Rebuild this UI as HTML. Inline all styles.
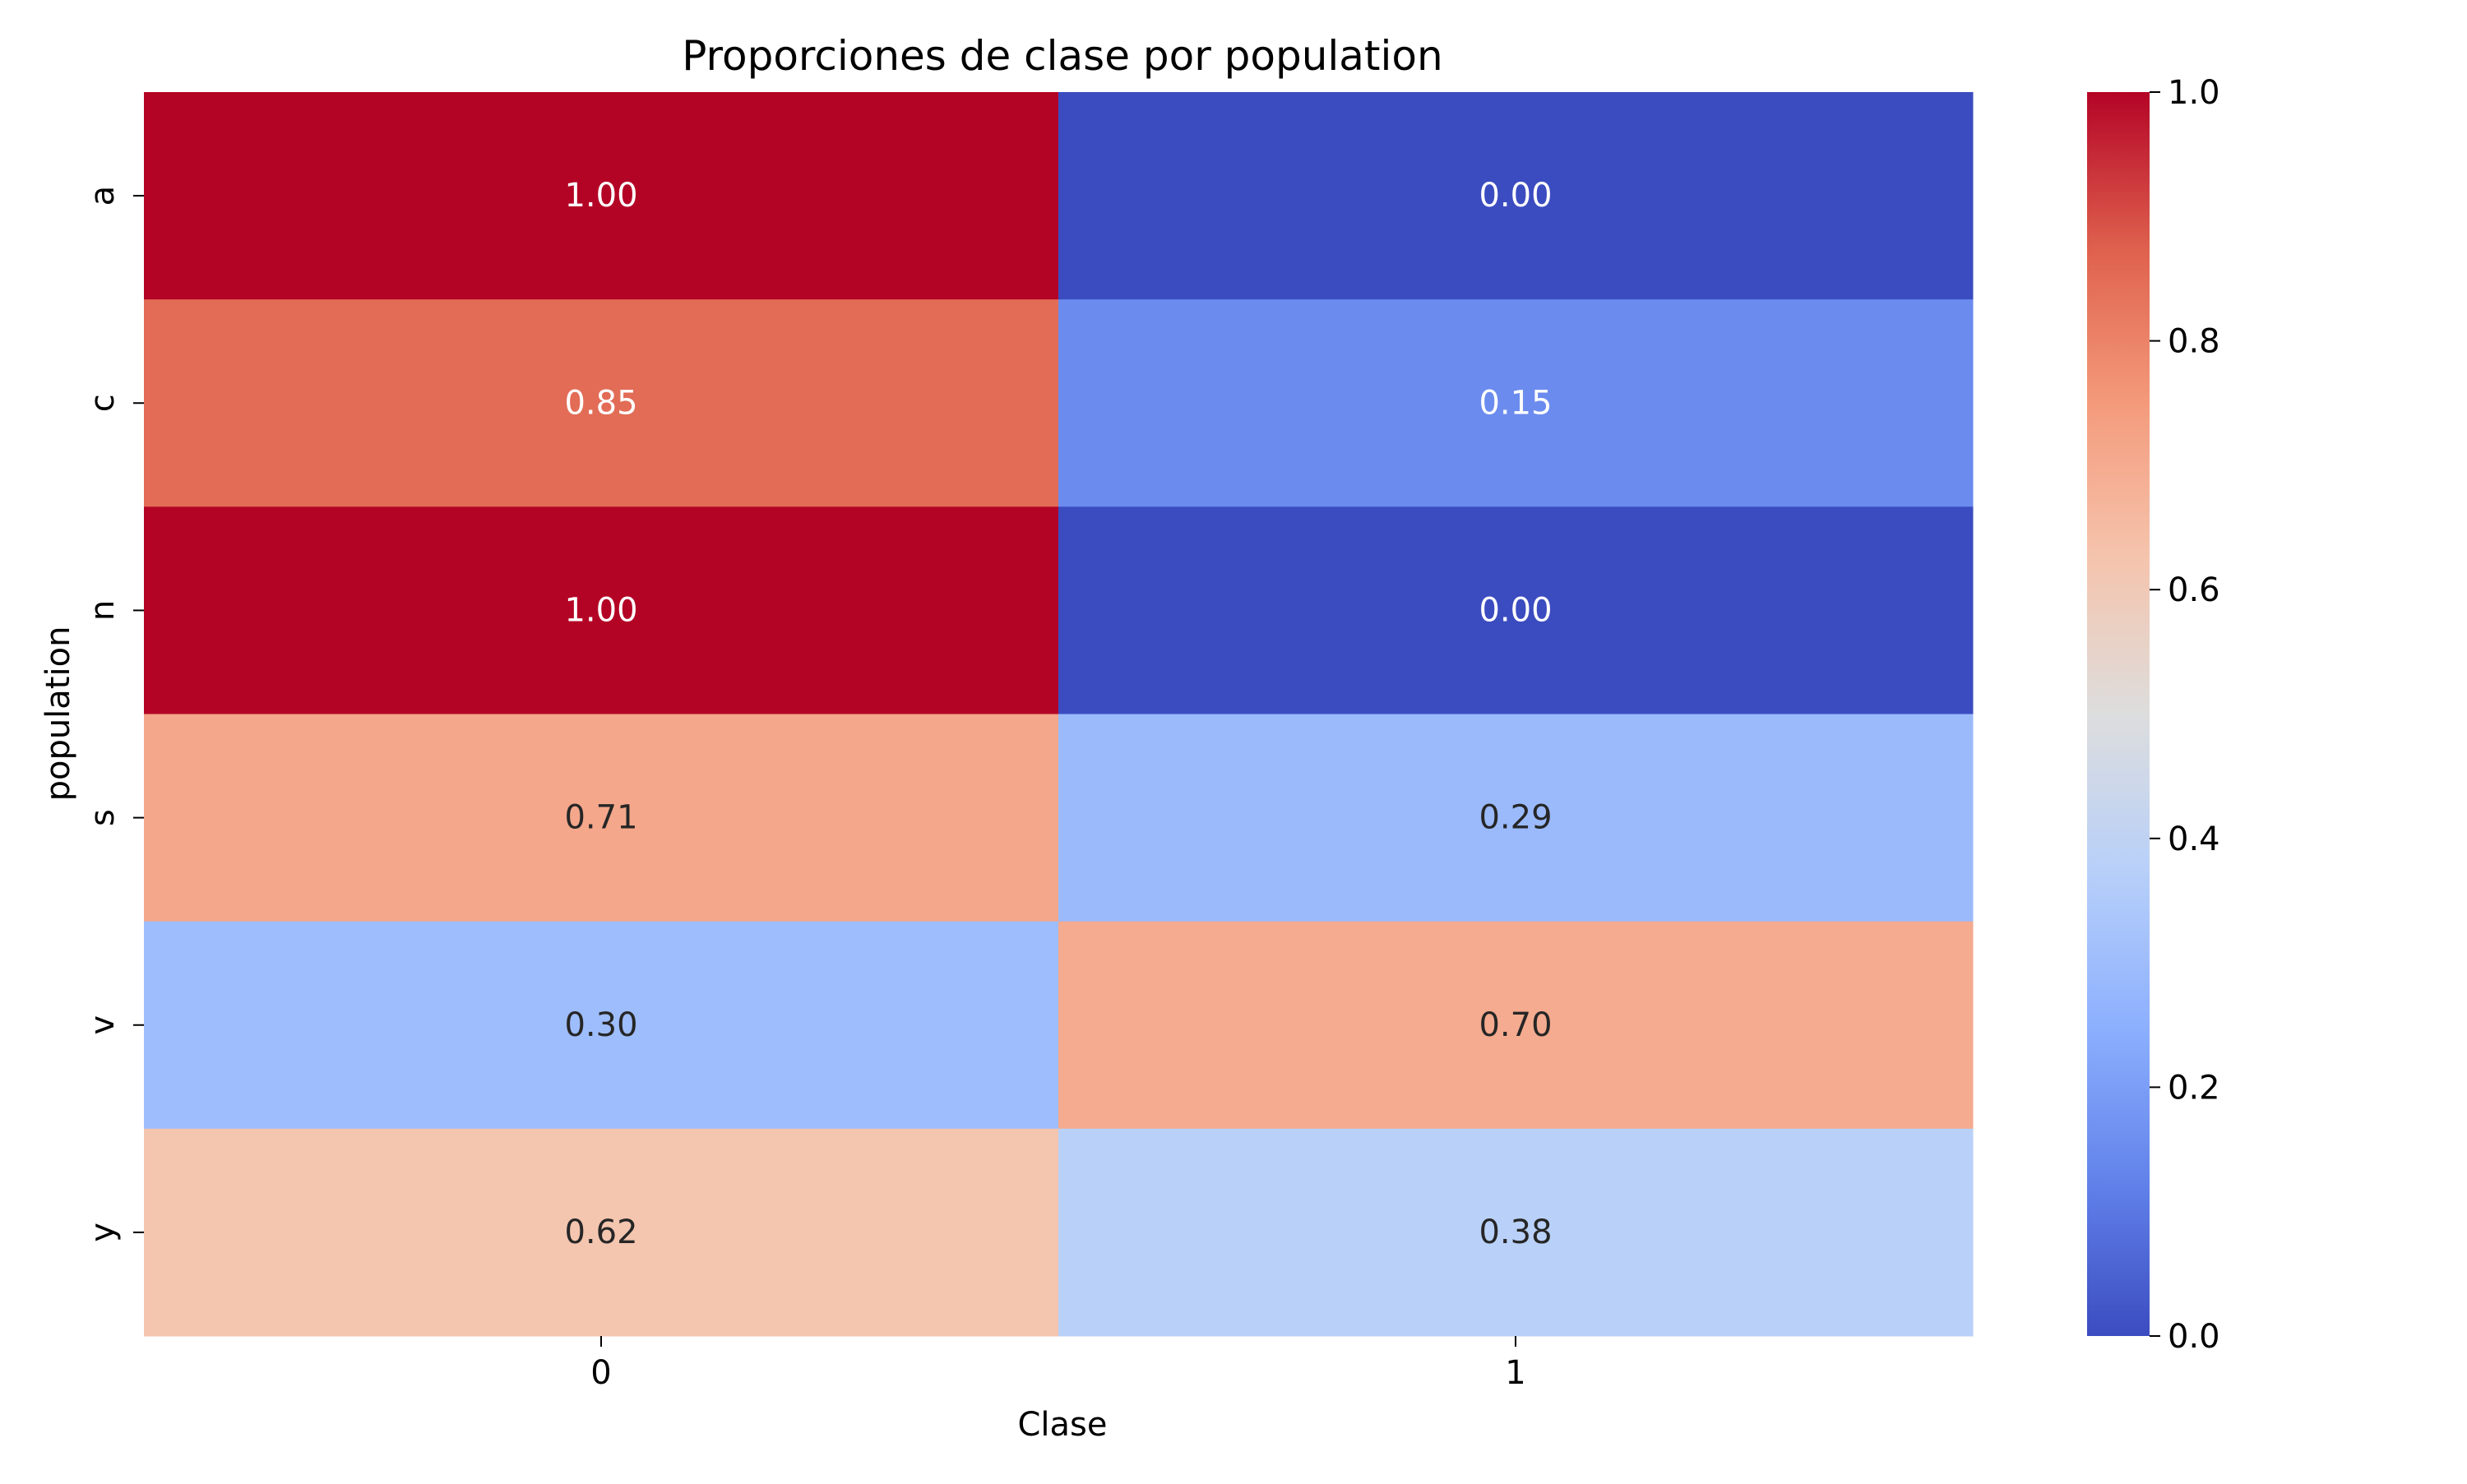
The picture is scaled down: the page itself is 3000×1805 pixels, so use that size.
<!DOCTYPE html>
<html><head><meta charset="utf-8"><style>
body{margin:0;background:#fff}
svg text{font-family:"DejaVu Sans","Liberation Sans",sans-serif}
</style></head><body>
<svg id="chart" width="3000" height="1800" xmlns="http://www.w3.org/2000/svg">
<defs><linearGradient id="cw" x1="0" y1="1" x2="0" y2="0"></linearGradient></defs>
<text x="1292" y="85" font-size="50" text-anchor="middle" fill="#000">Proporciones de clase por population</text>
<text x="1292" y="1746" font-size="40" text-anchor="middle" fill="#000">Clase</text>
<text transform="translate(84,868) rotate(-90)" font-size="40" text-anchor="middle" fill="#000">population</text>
<g id="cells"></g><g id="ticks"></g><g id="cbar"></g>
</svg>
<script>
const rows = ['a','c','n','s','v','y'];
const cols = ['0','1'];
const class0 = [1.00,0.85,1.00,0.71,0.30,0.62];
const class1 = [0.00,0.15,0.00,0.29,0.70,0.38];
const cbarTicks = [0.0,0.2,0.4,0.6,0.8,1.0];

const L=175,T=112,R=2399,B=1625;
const CB={x:2538,w:76};
const NS='http://www.w3.org/2000/svg';
const anchors=[[59,76,192],[98,130,234],[141,176,254],[184,208,249],[221,221,221],[245,196,173],[244,154,123],[222,96,77],[180,4,38]];
function cmap(v){v=Math.max(0,Math.min(1,v));const p=v*8,i=Math.min(7,Math.floor(p)),f=p-i;
 return anchors[i].map((a,k)=>Math.round(a+(anchors[i+1][k]-a)*f));}
function lin(c){c/=255;return c<=0.03928?c/12.92:Math.pow((c+0.055)/1.055,2.4);}
function xS(i){return L+(R-L)/cols.length*i;}
function yS(i){return T+(B-T)/rows.length*i;}
function vS(v){return B-(B-T)*v;}
function mk(tag,at,parent){const e=document.createElementNS(NS,tag);for(const k in at)e.setAttribute(k,at[k]);parent.appendChild(e);return e;}
const cells=document.getElementById('cells'),ticks=document.getElementById('ticks'),cbar=document.getElementById('cbar');
const series=[class0,class1];
const cw=(R-L)/cols.length,ch=(B-T)/rows.length;
series.forEach((s,j)=>s.forEach((v,i)=>{
 const c=cmap(v);
 const r=mk('rect',{x:xS(j),y:yS(i),width:cw+0.5,height:ch+0.5,fill:`rgb(${c})`},cells);
 
 
 const lum=0.2126*lin(c[0])+0.7152*lin(c[1])+0.0722*lin(c[2]);
 const t=mk('text',{x:xS(j)+cw/2,y:yS(i)+ch/2+13,'font-size':40,'text-anchor':'middle',fill:lum<0.408?'#fff':'#262626'},cells);
 t.textContent=v.toFixed(2);
 
 
}));
rows.forEach((r,i)=>{const y=yS(i)+ch/2;
 mk('line',{x1:L-13,x2:L,y1:y,y2:y,stroke:'#000','stroke-width':2},ticks);
 const t=mk('text',{transform:`translate(138,${y}) rotate(-90)`,'font-size':40,'text-anchor':'middle'},ticks);
 t.textContent=r;
 
 });
cols.forEach((c,j)=>{const x=xS(j)+cw/2;
 mk('line',{x1:x,x2:x,y1:B,y2:B+13,stroke:'#000','stroke-width':2},ticks);
 const t=mk('text',{x:x,y:B+58,'font-size':40,'text-anchor':'middle'},ticks);
 t.textContent=c;
 
 });
const g=document.getElementById('cw');
for(let k=0;k<=32;k++){const c=cmap(k/32);mk('stop',{offset:k/32,'stop-color':`rgb(${c})`},g);}
const cr=mk('rect',{x:CB.x,y:T,width:CB.w,height:B-T,fill:'url(#cw)'},cbar);


cbarTicks.forEach(v=>{const y=vS(v);
 mk('line',{x1:CB.x+CB.w,x2:CB.x+CB.w+13,y1:y,y2:y,stroke:'#000','stroke-width':2},cbar);
 const t=mk('text',{x:CB.x+CB.w+22,y:y+14,'font-size':40},cbar);
 t.textContent=v.toFixed(1);
 
 });
</script>
</body></html>
